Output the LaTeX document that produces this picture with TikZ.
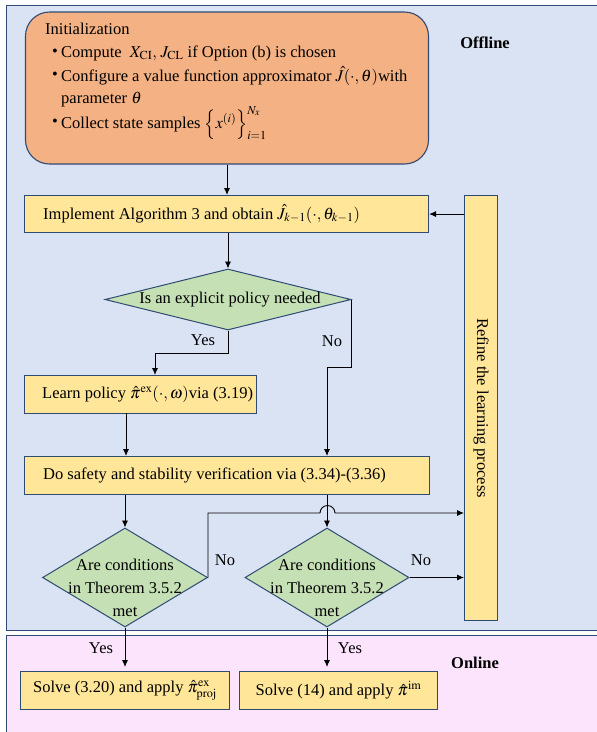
\documentclass[tikz,border=0pt]{standalone}
\usepackage{mathptmx}
\usepackage{fontspec}
\setmainfont{Liberation Serif}
\usetikzlibrary{shapes.geometric,arrows.meta}
\definecolor{offbg}{HTML}{DAE3F3}
\definecolor{onbg}{HTML}{FCE4FC}
\definecolor{navy}{HTML}{2F4B73}
\definecolor{orng}{HTML}{F4B183}
\definecolor{ylw}{HTML}{FFE699}
\definecolor{grn}{HTML}{C5E0B4}
\begin{document}
\begin{tikzpicture}[x=1pt,y=-1pt,font=\fontsize{16.5}{19}\selectfont,
  region/.style={draw=navy,line width=1pt},
  box/.style={draw=navy,line width=1.1pt,fill=ylw,inner sep=0pt},
  btxt/.style={anchor=west,inner sep=0pt,xshift=19pt},
  dec/.style={diamond,draw=navy,line width=1pt,fill=grn,inner sep=0pt},
  arr/.style={-{Latex[length=7pt,width=6pt]},line width=0.9pt},
  lbl/.style={inner sep=0pt},
  bul/.style={anchor=west,inner sep=0pt}]
\useasboundingbox (0,0) rectangle (597,732);
% regions
\node[region,fill=offbg,anchor=north west,minimum width=600pt,minimum height=625pt,inner sep=0pt] (offreg) at (6,5) {};
\node[region,fill=onbg,anchor=north west,minimum width=600pt,minimum height=100pt,inner sep=0pt] (onreg) at (6,635) {};
\node[font=\fontsize{16.5}{19}\selectfont\bfseries] (offl) at (485,43) {Offline};
\node[font=\fontsize{16.5}{19}\selectfont\bfseries] (onl) at (475,663) {Online};
% init
\node[draw=navy,line width=1.1pt,fill=orng,rounded corners=24pt,minimum width=403pt,minimum height=152pt,inner sep=0pt] (init) at (227,88) {};
\node[bul] (t0) at (45,29) {Initialization};
\node[bul] (b1) at (52,53) {\textbullet};
\node[bul] (t1) at (61,53) {Compute \ $X_{\mathrm{CI}},\, J_{\mathrm{CL}}$ if Option (b) is chosen};
\node[bul] (b2) at (52,76) {\textbullet};
\node[bul] (t2) at (61,76) {Configure a value function approximator $\hat{J}(\cdot,\theta)$with};
\node[bul] (t3) at (61,100) {parameter $\theta$};
\node[bul] (b4) at (52,123) {\textbullet};
\node[bul] (t4) at (61,123) {Collect state samples $\left\{x^{(i)}\right\}_{i=1}^{N_x}$};
% boxes
\node[box,anchor=north west,minimum width=404pt,minimum height=37pt] (impl) at (24,195) {};
\node[btxt] (implt) at (impl.west) {Implement Algorithm 3 and obtain $\hat{J}_{k-1}(\cdot,\theta_{k-1})$};
\node[box,anchor=north west,minimum width=33pt,minimum height=425pt] (refine) at (464,195) {};
\node[rotate=-90] (reftxt) at (refine.center) {Refine the learning process};
\node[dec,minimum width=246pt,minimum height=61pt] (d1) at (228,299.5) {};
\node (d1t) at (230,300) {Is an explicit policy needed};
\node[box,anchor=north west,minimum width=232pt,minimum height=38pt] (learn) at (24,375) {};
\node[btxt,xshift=-1pt] (learnt) at (learn.west) {Learn policy $\hat{\pi}^{\mathrm{ex}}(\cdot,\omega)$via (3.19)};
\node[box,anchor=north west,minimum width=405pt,minimum height=38pt] (verify) at (24,456) {};
\node[btxt] (verifyt) at (verify.west) {Do safety and stability verification via (3.34)-(3.36)};
\node[dec,minimum width=165pt,minimum height=99pt] (d2) at (125,577.5) {};
\node[align=center,font=\fontsize{16.5}{23}\selectfont,inner sep=0pt] (d2t) at (125,588) {Are conditions\\in Theorem 3.5.2\\met};
\node[dec,minimum width=164pt,minimum height=99pt] (d3) at (327,577.5) {};
\node[align=center,font=\fontsize{16.5}{23}\selectfont,inner sep=0pt] (d3t) at (327,588) {Are conditions\\in Theorem 3.5.2\\met};
\node[box,anchor=north west,minimum width=209pt,minimum height=38pt] (s1) at (20,671) {Solve (3.20) and apply $\hat{\pi}^{\mathrm{ex}}_{\mathrm{proj}}$};
\node[box,anchor=north west,minimum width=198pt,minimum height=38pt] (s2) at (239,671) {Solve (14) and apply $\hat{\pi}^{\mathrm{im}}$};
% helper coordinates
\coordinate (yb) at (155,353);
\coordinate (nb) at (327,367);
\coordinate (lv) at (126,413);
\coordinate (hopL) at (320,513);
% connectors
\draw[arr] (init.south) -- (init.south |- impl.north);
\draw[arr] (impl.south -| d1.north) -- (d1.north);
\draw[arr] (d1.south) |- (yb) -- (yb |- learn.north);
\draw[arr] (d1.east) |- (nb) -- (nb |- verify.north);
\draw[arr] (lv) -- (lv |- verify.north);
\draw[arr] (d2.north |- verify.south) -- (d2.north);
\draw[arr] (d3.north |- verify.south) -- (d3.north);
\draw[arr] (d2.east) -- (d2.east |- hopL) -- (hopL) arc[start angle=180,end angle=360,radius=7.5] -- (hopL -| refine.west);
\draw[arr] (d3.east) -- (d3.east -| refine.west);
\draw[arr] (impl.east -| refine.west) -- (impl.east);
\draw[arr,shorten >=4pt] (d2.south) -- (d2.south |- s1.north);
\draw[arr,shorten >=4pt] (d3.south) -- (d3.south |- s2.north);
% labels
\node[lbl] (ly1) at (203,340) {Yes};
\node[lbl] (ln1) at (332,341) {No};
\node[lbl] (ln2) at (225,560) {No};
\node[lbl] (ln3) at (421,560) {No};
\node[lbl] (ly2) at (101,648) {Yes};
\node[lbl] (ly3) at (350,648) {Yes};
\end{tikzpicture}
\end{document}
